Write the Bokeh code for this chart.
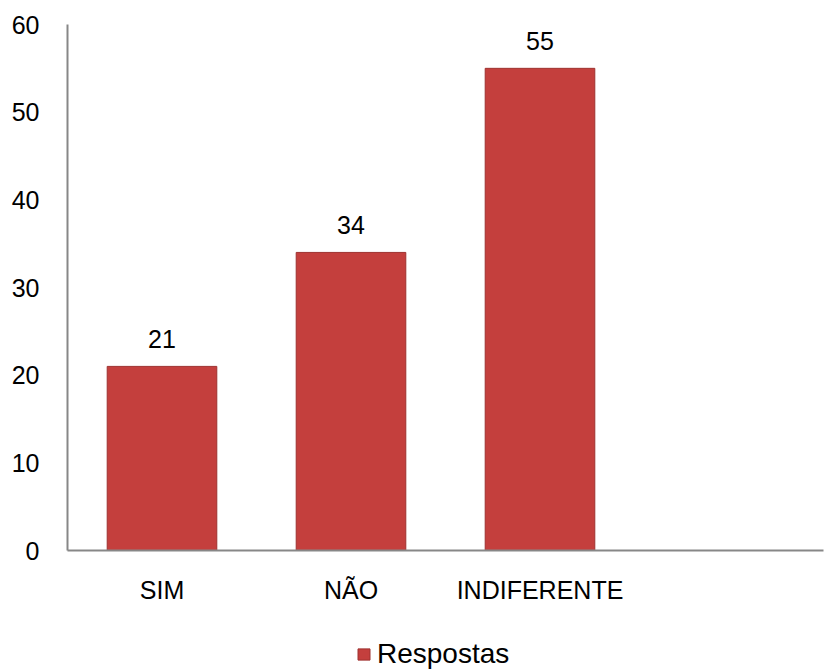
from bokeh.plotting import figure
from bokeh.layouts import column
from bokeh.models import FactorRange, Range1d, ColumnDataSource, Legend, LegendItem, SingleIntervalTicker
from bokeh.embed import file_html
from bokeh.resources import INLINE
from bokeh.core.properties import value

categories = ["SIM", "NÃO", "INDIFERENTE"]
respostas = [21, 34, 55]
empty_slot = [" "]
series_name = "Respostas"

BAR_FILL = "#c43f3d"
BAR_LINE = "#9e3230"

src = ColumnDataSource(dict(cat=categories, val=respostas, lbl=[str(v) for v in respostas]))

p = figure(x_range=FactorRange(factors=categories + empty_slot, range_padding=0),
           y_range=Range1d(0, 60),
           width=824, height=624, output_backend="svg", toolbar_location=None,
           min_border_left=67, min_border_right=1, min_border_top=24, min_border_bottom=74)
p.outline_line_color = None
p.grid.grid_line_color = None

bars = p.vbar(x="cat", top="val", width=0.58, source=src,
              fill_color=BAR_FILL, line_color=BAR_LINE, line_width=1)
p.text(x="cat", y="val", text="lbl", source=src, text_align="center", text_baseline="middle",
       y_offset=-27, text_font=value("Liberation Sans"), text_font_size="25px", text_color="#000000")

p.yaxis.ticker = SingleIntervalTicker(interval=10)
for ax in (p.xaxis[0], p.yaxis[0]):
    ax.axis_line_color = "#878787"
    ax.axis_line_width = 2
    ax.major_tick_line_color = None
    ax.minor_tick_line_color = None
    ax.major_tick_in = 0
    ax.major_tick_out = 0
    ax.major_label_text_font = "Liberation Sans"
    ax.major_label_text_font_size = "25px"
    ax.major_label_text_color = "#000000"
p.yaxis.major_label_standoff = 24
p.xaxis.major_label_standoff = 25

# separate strip for the legend under the chart
leg = figure(width=824, height=46, x_range=Range1d(0, 1), y_range=Range1d(0, 1),
             output_backend="svg", toolbar_location=None,
             x_axis_location=None, y_axis_location=None,
             min_border_left=0, min_border_right=0, min_border_top=0, min_border_bottom=0)
leg.outline_line_color = None
leg.grid.grid_line_color = None
# off-screen proxy renderer, only used to draw the legend swatch
swatch = leg.vbar(x=[-5], top=[-5], width=0.1, fill_color=BAR_FILL, line_color=BAR_LINE, line_width=1)

legend = Legend(items=[LegendItem(label=series_name, renderers=[swatch])],
                orientation="horizontal", location=(289, 0),
                label_text_font="Liberation Sans", label_text_font_size="28px",
                label_text_color="#000000",
                glyph_width=15, glyph_height=14, label_standoff=6,
                border_line_color=None, background_fill_alpha=0,
                margin=0, padding=0)
leg.add_layout(legend, "center")

layout = column(p, leg, spacing=0)
open("out.html", "w").write(file_html(layout, INLINE))
